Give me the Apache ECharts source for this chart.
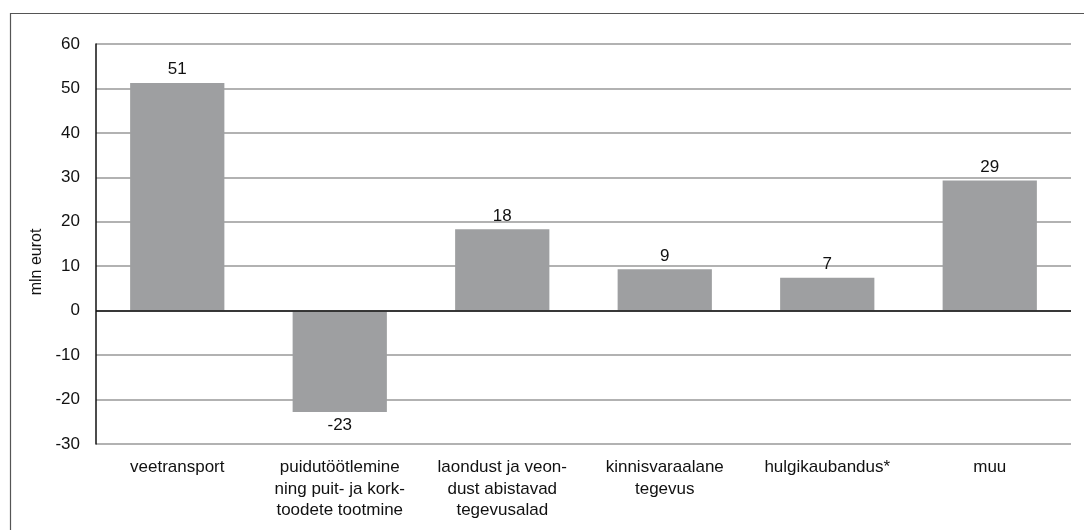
<!DOCTYPE html>
<html><head><meta charset="utf-8">
<script src="https://cdn.jsdelivr.net/npm/echarts@6/dist/echarts.min.js"></script>
<style>html,body{margin:0;padding:0;background:#fff}#c{width:1084px;height:530px}</style>
</head><body><div id="c"></div>
<script>
const categories = ["veetransport", "puidutöötlemine\nning puit- ja kork-\ntoodete tootmine", "laondust ja veon-\ndust abistavad\ntegevusalad", "kinnisvaraalane\ntegevus", "hulgikaubandus*", "muu"];
const values = [51.2, -22.8, 18.3, 9.3, 7.4, 29.3];
const yTicks = {min: -30, max: 60, interval: 10};
const yName = "mln eurot";

const font = "'Liberation Sans', Arial, Helvetica, sans-serif";
const chart = echarts.init(document.getElementById('c'), null, {renderer: 'canvas'});
chart.setOption({
  animation: false,
  graphic: [{type: 'rect', left: 8, top: 11, shape: {width: 1200, height: 700}, style: {fill: 'none', stroke: '#555', lineWidth: 1.2}, silent: true}],
  grid: {left: 96, right: 13, top: 44, bottom: 86},
  xAxis: {
    type: 'category', data: categories,
    axisLine: {show: false, onZero: false},
    axisTick: {show: false},
    axisLabel: {color: '#111', fontSize: 17, fontFamily: font, lineHeight: 21.5, margin: 13, interval: 0}
  },
  yAxis: {
    type: 'value', min: yTicks.min, max: yTicks.max, interval: yTicks.interval,
    name: yName, nameLocation: 'middle', nameGap: 48, nameRotate: 90,
    nameTextStyle: {color: '#111', fontSize: 16, fontFamily: font, padding: [0, 36, 0, 0]},
    axisLine: {show: true, lineStyle: {color: '#111', width: 1.5}},
    axisTick: {show: false},
    axisLabel: {color: '#111', fontSize: 17, fontFamily: font, margin: 16},
    splitLine: {lineStyle: {color: '#999', width: 1.5}}
  },
  series: [{
    type: 'bar', data: values, barCategoryGap: '42%',
    itemStyle: {color: '#9e9fa1'},
    label: {show: true, position: 'outside', color: '#111', fontSize: 17, fontFamily: font, distance: 5,
      formatter: p => String(Math.round(p.value))},
    markLine: {silent: true, symbol: 'none', label: {show: false},
      lineStyle: {color: '#111', type: 'solid', width: 1.5},
      data: [{yAxis: 0}]}
  }]
});
</script></body></html>
